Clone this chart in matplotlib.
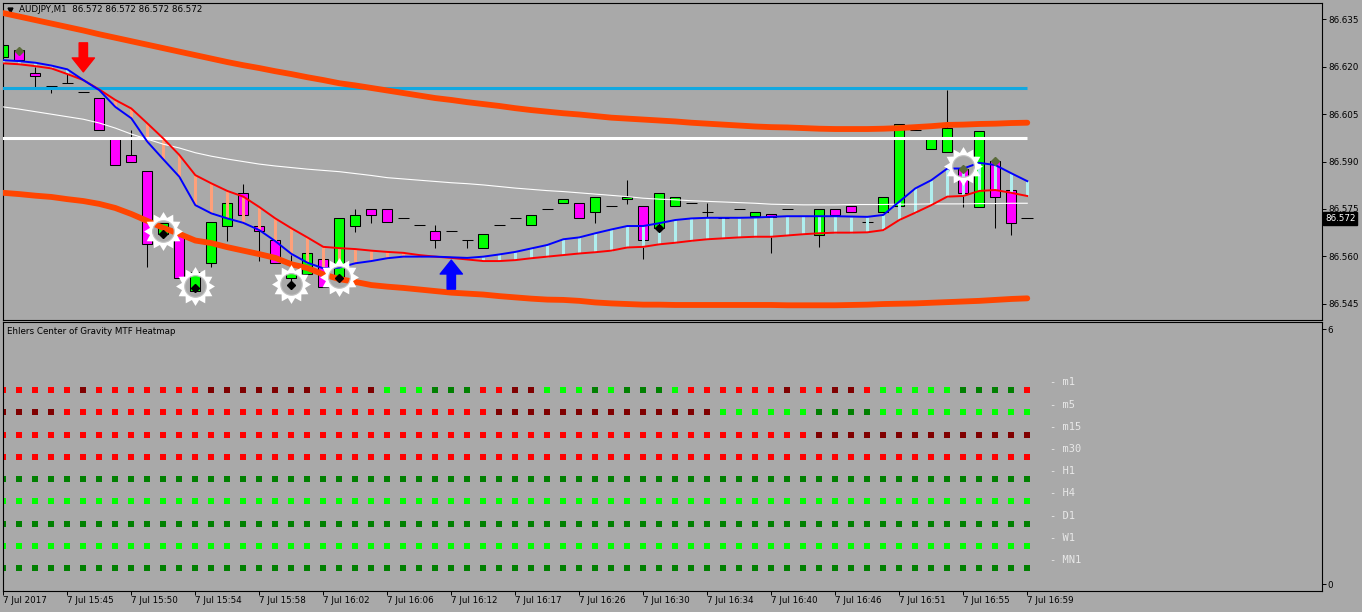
import numpy as np
import matplotlib
matplotlib.use('Agg')
import matplotlib.pyplot as plt
from matplotlib.path import Path

# AUDJPY M1 bars (one value per bar, left to right)
opens = [86.6230, 86.6254, 86.6180, 86.6139, 86.6149, 86.6120, 86.6100, 86.5970, 86.5920, 86.5870,
         86.5670, 86.5670, 86.5490, 86.5578, 86.5697, 86.5800, 86.5697, 86.5652, 86.5530, 86.5545,
         86.5590, 86.5530, 86.5697, 86.5749, 86.5749, 86.5720, 86.5698, 86.5679, 86.5680, 86.5652,
         86.5627, 86.5698, 86.5720, 86.5698, 86.5749, 86.5768, 86.5768, 86.5739, 86.5758, 86.5780,
         86.5758, 86.5689, 86.5758, 86.5768, 86.5739, 86.5722, 86.5750, 86.5728, 86.5735, 86.5750,
         86.5728, 86.5667, 86.5749, 86.5758, 86.5709, 86.5739, 86.5758, 86.5999, 86.5939, 86.5929,
         86.5878, 86.5757, 86.5902, 86.5810, 86.5720]
highs = [86.6270, 86.6254, 86.6200, 86.6139, 86.6177, 86.6120, 86.6100, 86.5970, 86.6000, 86.5870,
         86.5705, 86.5670, 86.5550, 86.5708, 86.5768, 86.5830, 86.5697, 86.5652, 86.5604, 86.5610,
         86.5590, 86.5720, 86.5750, 86.5749, 86.5749, 86.5720, 86.5698, 86.5699, 86.5680, 86.5652,
         86.5670, 86.5698, 86.5720, 86.5730, 86.5749, 86.5780, 86.5768, 86.5789, 86.5758, 86.5842,
         86.5758, 86.5799, 86.5789, 86.5768, 86.5770, 86.5722, 86.5750, 86.5739, 86.5735, 86.5750,
         86.5728, 86.5749, 86.5749, 86.5758, 86.5720, 86.5789, 86.6018, 86.5999, 86.5970, 86.6126,
         86.5878, 86.5997, 86.5902, 86.5810, 86.5720]
lows = [86.6230, 86.6220, 86.6137, 86.6118, 86.6149, 86.6120, 86.6000, 86.5890, 86.5900, 86.5567,
        86.5670, 86.5530, 86.5490, 86.5567, 86.5648, 86.5731, 86.5585, 86.5578, 86.5510, 86.5545,
        86.5502, 86.5530, 86.5678, 86.5707, 86.5708, 86.5720, 86.5698, 86.5627, 86.5680, 86.5627,
        86.5627, 86.5698, 86.5720, 86.5698, 86.5749, 86.5768, 86.5720, 86.5707, 86.5758, 86.5766,
        86.5590, 86.5689, 86.5758, 86.5768, 86.5725, 86.5722, 86.5750, 86.5728, 86.5610, 86.5750,
        86.5728, 86.5628, 86.5730, 86.5739, 86.5683, 86.5739, 86.5758, 86.5999, 86.5939, 86.5929,
        86.5757, 86.5757, 86.5689, 86.5667, 86.5720]
closes = [86.6270, 86.6220, 86.6170, 86.6139, 86.6149, 86.6120, 86.6000, 86.5890, 86.5900, 86.5638,
          86.5705, 86.5530, 86.5550, 86.5708, 86.5768, 86.5731, 86.5680, 86.5578, 86.5548, 86.5610,
          86.5502, 86.5720, 86.5730, 86.5730, 86.5708, 86.5720, 86.5698, 86.5652, 86.5680, 86.5652,
          86.5670, 86.5698, 86.5720, 86.5730, 86.5749, 86.5780, 86.5720, 86.5789, 86.5758, 86.5789,
          86.5652, 86.5799, 86.5789, 86.5768, 86.5739, 86.5722, 86.5750, 86.5739, 86.5725, 86.5750,
          86.5728, 86.5749, 86.5730, 86.5739, 86.5709, 86.5789, 86.6018, 86.5999, 86.5970, 86.6007,
          86.5799, 86.5997, 86.5789, 86.5706, 86.5720]

# indicator lines (thousandths above 86.000)
upper_band = [637.0, 635.9, 634.8, 633.7, 632.6, 631.5, 630.3, 629.2, 628.1, 627.0,
              625.9, 624.8, 623.7, 622.6, 621.5, 620.5, 619.6, 618.6, 617.7, 616.7,
              615.8, 614.8, 614.1, 613.3, 612.5, 611.7, 610.9, 610.1, 609.5, 608.8,
              608.2, 607.6, 606.9, 606.3, 605.8, 605.3, 604.9, 604.4, 603.9, 603.6,
              603.3, 603.0, 602.7, 602.3, 602.0, 601.7, 601.4, 601.1, 600.9, 600.8,
              600.6, 600.4, 600.3, 600.3, 600.3, 600.4, 600.6, 600.9, 601.2, 601.6,
              601.7, 601.9, 602.0, 602.2, 602.3]
lower_band = [580.1, 579.7, 579.2, 578.8, 578.1, 577.5, 576.6, 575.3, 573.4, 571.2,
              569.0, 567.1, 565.0, 564.2, 562.9, 561.8, 560.7, 559.5, 557.5, 556.3,
              554.3, 552.8, 551.9, 550.9, 550.4, 550.0, 549.5, 549.0, 548.5, 548.2,
              547.9, 547.4, 547.0, 546.6, 546.3, 546.2, 545.9, 545.4, 545.1, 544.9,
              544.7, 544.7, 544.6, 544.6, 544.6, 544.6, 544.6, 544.6, 544.6, 544.5,
              544.5, 544.5, 544.5, 544.6, 544.7, 544.9, 545.0, 545.1, 545.3, 545.5,
              545.7, 545.9, 546.2, 546.5, 546.7]
fast_ma = [622.1, 621.8, 621.3, 620.4, 619.2, 615.8, 612.6, 607.3, 603.7, 596.3,
           590.7, 585.2, 576.2, 573.6, 572.0, 570.6, 568.3, 564.8, 560.8, 558.0,
           556.2, 556.4, 557.8, 558.5, 559.4, 559.9, 559.9, 559.9, 559.7, 559.5,
           559.9, 560.6, 561.4, 562.5, 563.6, 565.4, 566.0, 567.3, 568.5, 569.6,
           569.6, 570.5, 571.5, 572.0, 572.2, 572.2, 572.2, 572.3, 572.5, 572.7,
           572.7, 572.7, 572.7, 572.6, 572.5, 573.1, 577.3, 581.5, 584.1, 587.8,
           587.8, 589.6, 588.9, 586.3, 583.8]
slow_ma = [621.1, 620.8, 620.2, 619.5, 617.7, 615.8, 612.8, 609.5, 606.8, 602.1,
           597.3, 592.1, 585.7, 583.1, 580.7, 578.9, 575.6, 572.0, 568.9, 566.0,
           563.0, 562.6, 562.3, 561.8, 561.4, 561.1, 560.4, 559.9, 559.5, 559.0,
           558.5, 558.5, 558.8, 559.4, 559.9, 560.4, 560.9, 561.3, 561.8, 562.8,
           563.0, 563.8, 564.3, 564.9, 565.4, 565.7, 566.0, 566.2, 566.2, 566.6,
           567.0, 567.3, 567.5, 567.5, 567.6, 568.3, 571.5, 573.8, 576.2, 578.9,
           579.1, 580.7, 581.0, 580.1, 579.1]
long_ma = [607.3, 606.6, 605.8, 605.0, 604.2, 603.4, 602.2, 600.6, 598.7, 597.1,
           595.5, 594.3, 592.8, 591.7, 590.8, 590.0, 589.2, 588.6, 588.1, 587.6,
           587.2, 586.8, 586.2, 585.6, 584.9, 584.5, 584.1, 583.7, 583.3, 583.0,
           582.6, 582.1, 581.6, 581.2, 580.8, 580.5, 580.1, 579.7, 579.3, 578.9,
           578.4, 578.1, 577.9, 577.6, 577.4, 577.2, 577.0, 576.8, 576.5, 576.4,
           576.3, 576.3, 576.3, 576.4, 576.4, 576.4, 576.5, 576.5, 576.6, 576.6,
           576.6, 576.7, 576.7, 576.8, 576.8]

# horizontal levels
level_white = 86.5975
level_blue = 86.6132

# signal arrows
arrow_idx = [5, 28]
arrow_price = [86.6184, 86.5588]
arrow_dir = ['down', 'up']

# markers
star_idx = [10, 12, 18, 21, 60]
star_price = [86.5680, 86.5505, 86.5512, 86.5533, 86.5885]
dot_idx = [10, 12, 18, 21, 41]
dot_price = [86.5670, 86.5501, 86.5509, 86.5530, 86.5689]
olive_idx = [1, 60, 62]
olive_price = [86.6251, 86.5878, 86.5902]

price_ticks = [86.545, 86.560, 86.575, 86.590, 86.605, 86.620, 86.635]
time_labels = ['7 Jul 2017', '7 Jul 15:45', '7 Jul 15:50', '7 Jul 15:54', '7 Jul 15:58',
               '7 Jul 16:02', '7 Jul 16:06', '7 Jul 16:12', '7 Jul 16:17', '7 Jul 16:26',
               '7 Jul 16:30', '7 Jul 16:34', '7 Jul 16:40', '7 Jul 16:46', '7 Jul 16:51',
               '7 Jul 16:55', '7 Jul 16:59']

# heatmap: R red, D dark red, L lime, G green
heat_names = ['m1', 'm5', 'm15', 'm30', 'H1', 'H4', 'D1', 'W1', 'MN1']
heat_levels = [4.57, 4.05, 3.51, 3.00, 2.48, 1.97, 1.43, 0.91, 0.39]
heat_rows = [
    'RRRRRDRRRRRRRDDDDDDDRRRDLLLGGGRRDDLLLGLGGGLRRRRRRDRRDDRLLLLLGGGGR',
    'DDDD' + 'R' * 27 + 'D' * 14 + 'L' * 6 + 'G' * 4 + 'L' * 10,
    'R' * 51 + 'D' * 14,
    'R' * 65,
    'G' * 65,
    'L' * 65,
    'G' * 65,
    'L' * 65,
    'G' * 65,
]
heat_colors = {'R': '#FF0000', 'D': '#800000', 'L': '#00FF00', 'G': '#008000'}

BG = '#A9A9A9'
FS = 6.3


def ring_star(n=12, inner=0.72, hole=0.56):
    '''Star outline with a round hole in the middle, for the signal markers'''
    ang = np.linspace(0, 2 * np.pi, 2 * n, endpoint=False) + np.pi / 2
    r = np.where(np.arange(2 * n) % 2 == 0, 1.0, inner)
    outer = np.column_stack([r * np.cos(ang), r * np.sin(ang)])
    t = np.linspace(2 * np.pi, 0, 40, endpoint=False)
    inner_v = np.column_stack([hole * np.cos(t), hole * np.sin(t)])
    verts = np.vstack([outer, outer[:1], inner_v, inner_v[:1]])
    codes = ([Path.MOVETO] + [Path.LINETO] * (2 * n - 1) + [Path.CLOSEPOLY] +
             [Path.MOVETO] + [Path.LINETO] * 39 + [Path.CLOSEPOLY])
    return Path(verts, codes)


def plot_price(ax):
    '''Candles, bands, moving averages and signals'''
    x = np.arange(len(opens))
    o, h, l, c = (np.array(v) for v in (opens, highs, lows, closes))
    up = c > o
    dn = c < o
    flat = c == o

    ax.vlines(x, l, h, color='black', lw=0.75, zorder=2)
    ax.bar(x[up], c[up] - o[up], bottom=o[up], width=0.62, color='#00FF00',
           edgecolor='black', lw=0.75, zorder=2.5)
    ax.bar(x[dn], o[dn] - c[dn], bottom=c[dn], width=0.62, color='#FF00FF',
           edgecolor='black', lw=0.75, zorder=2.5)
    ax.hlines(o[flat], x[flat] - 0.36, x[flat] + 0.36, color='black', lw=0.75, zorder=2.5)

    fast = 86 + np.array(fast_ma) / 1000
    slow = 86 + np.array(slow_ma) / 1000
    hist_col = np.where(fast > slow, '#AFEEEE', '#FFA07A')
    ax.vlines(x, fast, slow, colors=hist_col, lw=2.2, zorder=3)

    ax.plot(x, 86 + np.array(long_ma) / 1000, color='white', lw=0.8, zorder=3)
    ax.hlines(level_white, -1, x[-1], color='white', lw=2.2, zorder=3)
    ax.hlines(level_blue, -1, x[-1], color='#12A8E0', lw=2.2, zorder=3)
    for band in (upper_band, lower_band):
        ax.plot(x, 86 + np.array(band) / 1000, color='#FF4500', lw=4.2,
                solid_capstyle='round', zorder=4)
    ax.plot(x, slow, color='#FF0000', lw=1.4, zorder=5)
    ax.plot(x, fast, color='#0000FF', lw=1.4, zorder=5)

    ax.plot(star_idx, star_price, ls='none', marker=ring_star(), ms=28,
            mfc='white', mew=0, zorder=6)
    ax.plot(star_idx, star_price, ls='none', marker='o', ms=15.5, mfc='none',
            mec='#C4C4C4', mew=0.8, zorder=6)
    ax.plot(dot_idx, dot_price, ls='none', marker='D', ms=4, color='black', zorder=7)
    ax.plot(olive_idx, olive_price, ls='none', marker='D', ms=4, color='#5A6B3A', zorder=7)

    for i, p, d in zip(arrow_idx, arrow_price, arrow_dir):
        off = 29 if d == 'down' else -29
        col = '#FF0000' if d == 'down' else '#0000FF'
        ax.annotate('', xy=(i, p), xytext=(0, off), textcoords='offset pixels',
                    arrowprops=dict(arrowstyle='simple,head_length=1.0,head_width=1.6,tail_width=0.6',
                                    color=col, mutation_scale=10, shrinkA=0, shrinkB=0),
                    zorder=7)

    ax.set_xlim(-0.04, 82.42)
    ax.set_ylim(86.5400, 86.6402)
    ax.set_xticks([])
    ax.yaxis.tick_right()
    ax.set_yticks(price_ticks)
    ax.set_yticklabels(['{0:.3f}'.format(p) for p in price_ticks])
    ax.tick_params(axis='y', direction='out', length=3, width=0.7, labelsize=FS, pad=1.5)

    ax.text(0.0124, 0.978, 'AUDJPY,M1  {0:.3f} {1:.3f} {2:.3f} {3:.3f}'.format(
        opens[-1], highs[-1], lows[-1], closes[-1]),
        transform=ax.transAxes, fontsize=FS, va='center', ha='left')
    ax.plot([0.0058], [0.978], marker='v', ms=3.5, color='black', transform=ax.transAxes)
    ax.annotate('{0:.3f}'.format(closes[-1]), xy=(1, closes[-1]),
                xycoords=('axes fraction', 'data'), xytext=(3, 0), textcoords='offset pixels',
                ha='left', va='center', color='white', fontsize=FS,
                bbox=dict(boxstyle='square,pad=0.2', fc='black', ec='black'))


def plot_heatmap(ax):
    '''Multi time frame heatmap panel'''
    for level, codes, name in zip(heat_levels, heat_rows, heat_names):
        for code, color in heat_colors.items():
            idx = [i for i, ch in enumerate(codes) if ch == code]
            ax.plot(idx, [level] * len(idx), ls='none', marker='s', ms=4.3,
                    color=color, mew=0)
        ax.text(65.42, level + 0.18, '- ' + name, color='#E8E8E8', fontsize=7.5,
                family='DejaVu Sans Mono', va='center', ha='left')

    ax.set_xlim(-0.04, 82.42)
    ax.set_ylim(-0.15, 6.16)
    ax.yaxis.tick_right()
    ax.set_yticks([0, 6])
    ax.set_yticklabels(['0', '6'])
    ax.set_xticks(range(0, 4 * len(time_labels), 4))
    ax.set_xticklabels(time_labels, ha='left')
    ax.tick_params(direction='out', length=3, width=0.7, labelsize=FS, pad=1)
    ax.text(0.0033, 0.968, 'Ehlers Center of Gravity MTF Heatmap', transform=ax.transAxes,
            fontsize=FS, va='center', ha='left')


def main():
    plt.rcParams['font.family'] = ['DejaVu Sans']
    fig = plt.figure(figsize=(13.62, 6.12), dpi=100, facecolor=BG)
    ax = fig.add_axes([0.00198, 0.47794, 0.96862, 0.51716], facecolor=BG)
    ax2 = fig.add_axes([0.00198, 0.0348, 0.96862, 0.43824], facecolor=BG)
    for a in (ax, ax2):
        for s in a.spines.values():
            s.set_linewidth(0.8)
            s.set_color('black')
    plot_price(ax)
    plot_heatmap(ax2)
    fig.savefig('out.png', dpi=100, facecolor=BG)


if __name__ == '__main__':
    main()
